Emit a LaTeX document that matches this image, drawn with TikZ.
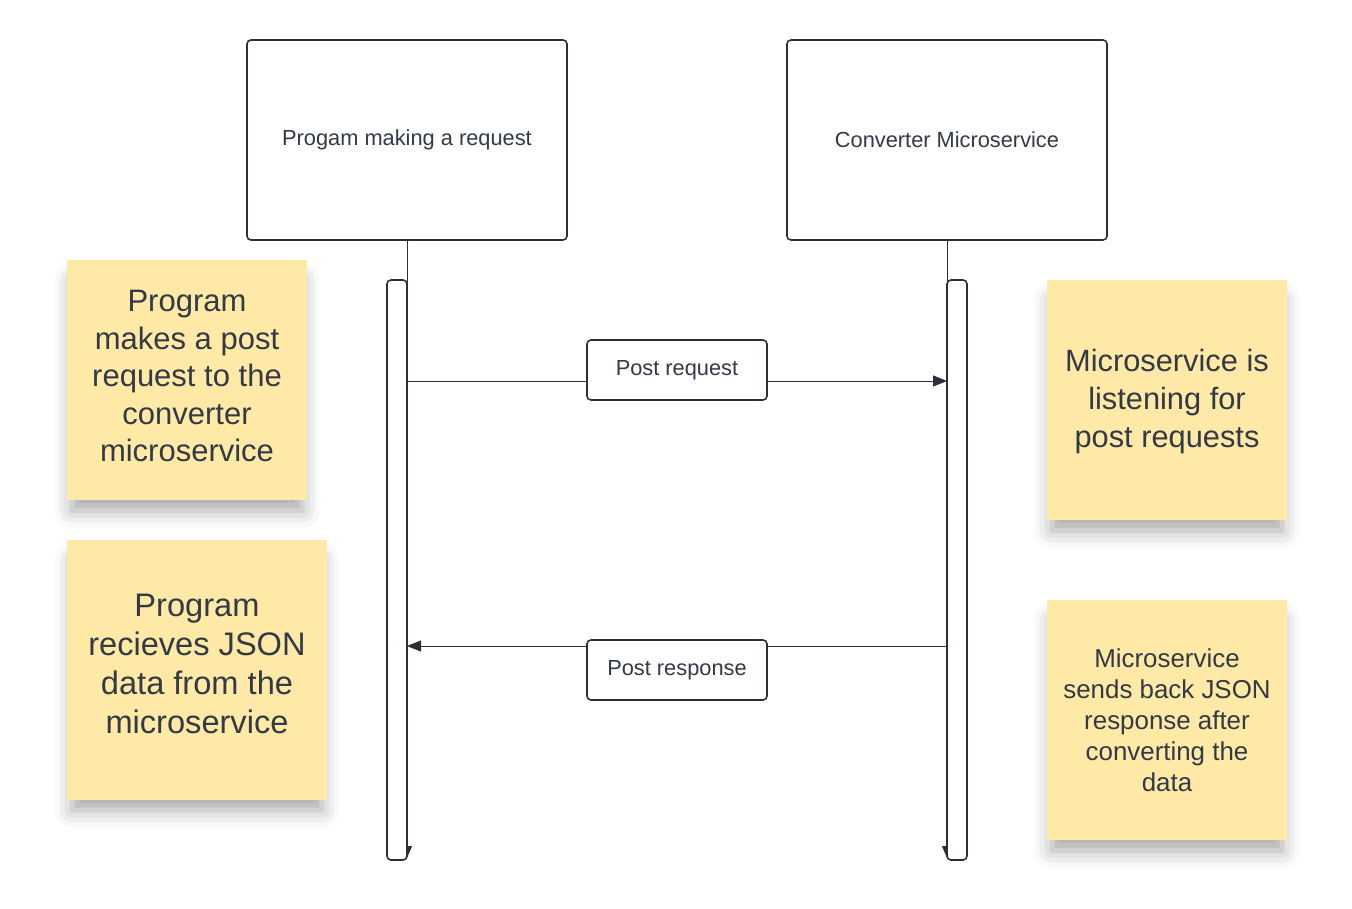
\documentclass[tikz,border=0pt]{standalone}
\usepackage{fontspec}
\setmainfont{Liberation Sans}
\usetikzlibrary{arrows.meta,shadows.blur}
\definecolor{ink}{HTML}{2B2F38}
\definecolor{txt}{HTML}{333A45}
\definecolor{sticky}{HTML}{FEE9A6}
\newcommand{\notetext}[2]{\raisebox{#1}[\height][\depth]{\begin{tabular}{@{}c@{}}#2\end{tabular}}}
\tikzset{
  x=1pt,y=-1pt,
  actor/.style={draw=ink,line width=1.6pt,rounded corners=4pt,fill=white,minimum width=320pt,minimum height=200pt,inner sep=0pt,text=txt,font=\fontsize{21.8}{24}\selectfont},
  bar/.style={draw=ink,line width=1.6pt,rounded corners=4pt,fill=white},
  msglabel/.style={draw=ink,line width=1.6pt,rounded corners=4pt,fill=white,minimum width=180pt,minimum height=60pt,inner sep=0pt,text=txt,font=\fontsize{21.8}{24}\selectfont},
  note/.style={fill=sticky,inner sep=0pt,align=center,text=txt,
    blur shadow={shadow xshift=0pt,shadow yshift=-16pt,shadow blur radius=18pt,shadow opacity=35,shadow scale=0.96}},
  life/.style={draw=ink,line width=0.8pt},
  msg/.style={draw=ink,line width=0.8pt,-{Triangle[length=14pt,width=11pt]}},
}
\begin{document}
\begin{tikzpicture}
\useasboundingbox (0,0) rectangle (1352,909);
% sticky notes
\node[note,minimum width=240pt,minimum height=240pt,font=\fontsize{31}{37.5}\selectfont] (n1) at (187,380) {\notetext{1pt}{Program\\makes a post\\request to the\\converter\\microservice}};
\node[note,minimum width=260pt,minimum height=260pt,font=\fontsize{32.6}{39}\selectfont] (n2) at (197,670) {\notetext{3pt}{Program\\recieves JSON\\data from the\\microservice}};
\node[note,minimum width=240pt,minimum height=240pt,font=\fontsize{30.8}{38}\selectfont] (n3) at (1167,400) {\notetext{-2pt}{Microservice is\\listening for\\post requests}};
\node[note,minimum width=240pt,minimum height=240pt,font=\fontsize{25.9}{31}\selectfont] (n4) at (1167,720) {\notetext{-3pt}{Microservice\\sends back JSON\\response after\\converting the\\data}};
% actors
\node[actor] (a) at (407,140) {Progam making a request};
\node[actor] (b) at (947,140) {Converter Microservice};
\coordinate (aend) at (407,858);
\coordinate (bend) at (947,858);
\draw[life,-{Triangle[length=12pt,width=10pt]}] (a.south) -- (aend);
\draw[life,-{Triangle[length=12pt,width=10pt]}] (b.south) -- (bend);
% activation bars
\draw[bar] (387,280) rectangle (407,860);
\draw[bar] (947,280) rectangle (967,860);
% messages
\coordinate (a1) at (407,381);
\coordinate (b1) at (947,381);
\coordinate (a2) at (407,646);
\coordinate (b2) at (947,646);
\draw[msg] (a1) -- (b1);
\draw[msg] (b2) -- (a2);
\node[msglabel] (l1) at (677,370) {Post request};
\node[msglabel] (l2) at (677,670) {Post response};
\end{tikzpicture}
\end{document}
